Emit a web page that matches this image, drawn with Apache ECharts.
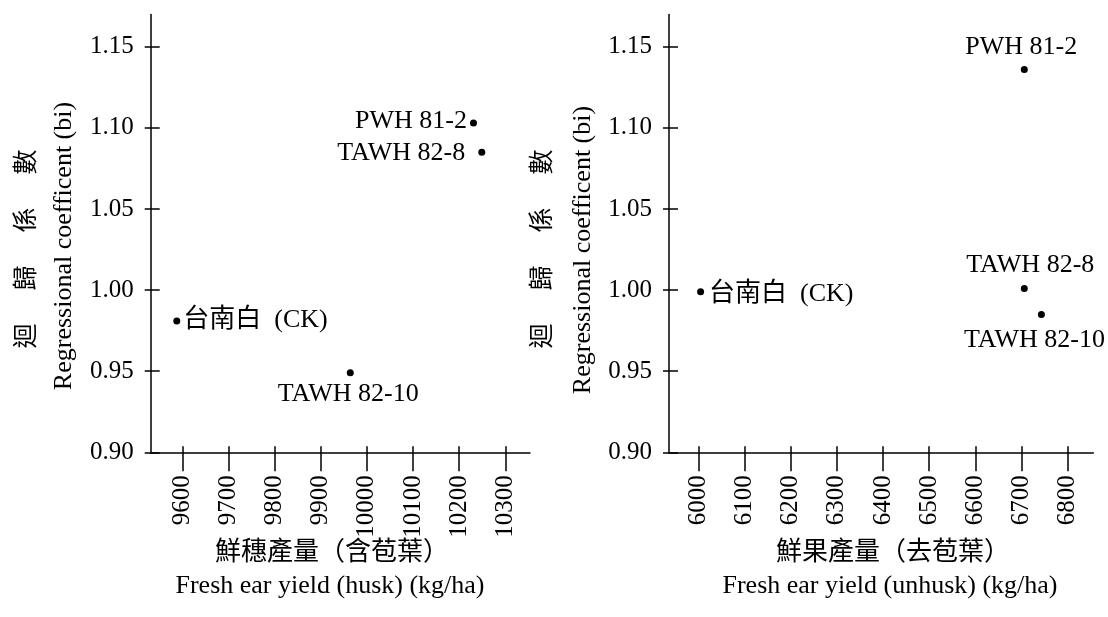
<!DOCTYPE html>
<html>
<head>
<meta charset="utf-8">
<script src="https://cdn.jsdelivr.net/npm/echarts@6.0.0/dist/echarts.min.js"></script>
<style>
html,body{margin:0;padding:0;background:#fff;}
#chart{width:1108px;height:617px;}
</style>
</head>
<body>
<div id="chart"></div>
<script>
// ---- data ----
const leftNames = ['PWH 81-2', 'TAWH 82-8', '台南白  (CK)', 'TAWH 82-10'];
const leftYield = [10231, 10249, 9588, 9964];
const leftCoef = [1.103, 1.085, 0.981, 0.949];

const rightNames = ['PWH 81-2', 'TAWH 82-8', 'TAWH 82-10', '台南白  (CK)'];
const rightYield = [6706, 6706, 6743, 6005];
const rightCoef = [1.136, 1.001, 0.985, 0.999];

const leftXTicks = [9600, 9700, 9800, 9900, 10000, 10100, 10200, 10300];
const rightXTicks = [6000, 6100, 6200, 6300, 6400, 6500, 6600, 6700, 6800];
const yTicks = [0.90, 0.95, 1.00, 1.05, 1.10, 1.15];

const yTitleZh = ['迴', '歸', '係', '數'];
const yTitleEn = 'Regressional coefficent (bi)';
const leftXTitleZh = '鮮穗產量（含苞葉）';
const leftXTitleEn = 'Fresh ear yield (husk) (kg/ha)';
const rightXTitleZh = '鮮果產量（去苞葉）';
const rightXTitleEn = 'Fresh ear yield (unhusk) (kg/ha)';

// ---- label placement (style, not data) ----
const leftLabelCfg = [
  {position: 'left', distance: 3, offset: [0, -2]},
  {position: 'left', distance: 13, offset: [0, 1]},
  {position: 'right', distance: 3, offset: [0, -1]},
  {position: 'bottom', distance: 5, offset: [-2, 0]}
];
const rightLabelCfg = [
  {position: 'top', distance: 6, offset: [-3, 0]},
  {position: 'top', distance: 7, offset: [6, 0]},
  {position: 'bottom', distance: 9, offset: [-7, 0]},
  {position: 'right', distance: 5, offset: [0, 2]}
];

const SERIF = "'Liberation Serif', 'Noto Sans CJK TC', serif";
const INK = '#000';

function buildData(names, xs, ys, cfg) {
  return names.map((n, i) => ({
    name: n,
    value: [xs[i], ys[i]],
    label: Object.assign({show: true, formatter: n}, cfg[i])
  }));
}

function xAxes(gridIndex, min, max, ticks) {
  return [
    {
      type: 'value', gridIndex, min, max, position: 'bottom',
      axisLine: {show: true, lineStyle: {color: INK, width: 1.5}},
      axisTick: {show: true, inside: false, length: 19, customValues: ticks, lineStyle: {color: INK, width: 1.5}},
      axisLabel: {show: true, customValues: ticks, rotate: 90, margin: 23, color: INK, fontSize: 25, fontFamily: SERIF,
        formatter: v => String(v)},
      splitLine: {show: false}
    },
    {
      type: 'value', gridIndex, min, max, position: 'bottom',
      axisLine: {show: false},
      axisTick: {show: true, inside: true, length: 6, customValues: ticks, lineStyle: {color: INK, width: 1.5}},
      axisLabel: {show: false},
      splitLine: {show: false}
    }
  ];
}

function yAxes(gridIndex) {
  return [
    {
      type: 'value', gridIndex, min: 0.9, max: 1.17, position: 'left',
      axisLine: {show: true, lineStyle: {color: INK, width: 1.5}},
      axisTick: {show: true, inside: false, length: 6, customValues: yTicks, lineStyle: {color: INK, width: 1.5}},
      axisLabel: {show: true, customValues: yTicks, margin: 17, color: INK, fontSize: 25, fontFamily: SERIF,
        formatter: v => Number(v).toFixed(2)},
      splitLine: {show: false}
    },
    {
      type: 'value', gridIndex, min: 0.9, max: 1.17, position: 'left',
      axisLine: {show: false},
      axisTick: {show: true, inside: true, length: 9, customValues: yTicks, lineStyle: {color: INK, width: 1.5}},
      axisLabel: {show: false},
      splitLine: {show: false}
    }
  ];
}

function rotText(x, y, text, size) {
  return {
    type: 'text', x, y, rotation: Math.PI / 2,
    style: {text, font: size + 'px ' + SERIF, fill: INK, align: 'center', verticalAlign: 'middle'}
  };
}
function hText(x, y, text, size) {
  return {
    type: 'text', x, y,
    style: {text, font: size + 'px ' + SERIF, fill: INK, align: 'center', verticalAlign: 'middle'}
  };
}

const graphics = [];
const zhY = [336, 278, 220, 162];
yTitleZh.forEach((c, i) => {
  graphics.push(rotText(27, zhY[i], c, 25));
  graphics.push(rotText(543, zhY[i], c, 25));
});
graphics.push(rotText(64, 246, yTitleEn, 26));
graphics.push(rotText(583, 250, yTitleEn, 26));
graphics.push(hText(332, 553, leftXTitleZh, 26));
graphics.push(hText(330, 586, leftXTitleEn, 26));
graphics.push(hText(893, 553, rightXTitleZh, 26));
graphics.push(hText(890, 586, rightXTitleEn, 26));

const labelStyle = {color: INK, fontSize: 26, fontFamily: SERIF};

const option = {
  backgroundColor: '#fff',
  animation: false,
  grid: [
    {left: 150.7, top: 14.4, width: 379.3, height: 437.9},
    {left: 669, top: 14.4, width: 424.3, height: 437.9}
  ],
  xAxis: [].concat(
    xAxes(0, 9531.5, 10353.5, leftXTicks),
    xAxes(1, 5936.6, 6855.4, rightXTicks)
  ),
  yAxis: [].concat(yAxes(0), yAxes(1)),
  series: [
    {
      type: 'scatter', xAxisIndex: 0, yAxisIndex: 0,
      symbol: 'circle', symbolSize: 7,
      itemStyle: {color: INK, opacity: 1},
      label: labelStyle,
      data: buildData(leftNames, leftYield, leftCoef, leftLabelCfg)
    },
    {
      type: 'scatter', xAxisIndex: 2, yAxisIndex: 2,
      symbol: 'circle', symbolSize: 7,
      itemStyle: {color: INK, opacity: 1},
      label: labelStyle,
      data: buildData(rightNames, rightYield, rightCoef, rightLabelCfg)
    }
  ],
  graphic: graphics
};

const chart = echarts.init(document.getElementById('chart'));
chart.setOption(option);
</script>
</body>
</html>
